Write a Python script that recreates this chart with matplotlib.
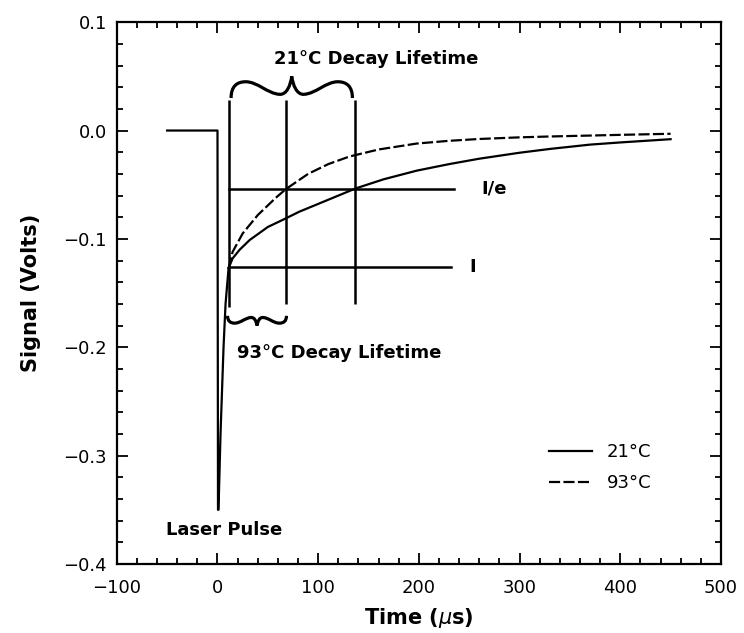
import numpy as np
import matplotlib
matplotlib.use("Agg")
from matplotlib import pyplot as plt
from matplotlib.path import Path
from matplotlib.patches import PathPatch

# laser pulse trace (before both decays)
pulse_t = [-50, -2, 0, 0.5, 1, 3, 6, 8, 11]
pulse_v = [0.0, 0.0, 0.0, -0.35, -0.35, -0.28, -0.20, -0.16, -0.127]

# decay curves
t21 = [11, 15, 22, 32, 50, 68, 81, 111, 137, 165, 198, 230, 260, 300, 330, 370, 400, 450]
v21 = [-0.127, -0.118, -0.110, -0.101, -0.089, -0.081, -0.075, -0.0635, -0.0535,
       -0.045, -0.037, -0.031, -0.026, -0.0205, -0.017, -0.013, -0.011, -0.008]
t93 = [11, 15, 25, 40, 58, 68, 90, 110, 131, 160, 198, 230, 260, 300, 330, 400, 450]
v93 = [-0.127, -0.112, -0.095, -0.078, -0.062, -0.054, -0.040, -0.031, -0.024,
       -0.0175, -0.012, -0.0095, -0.0078, -0.0063, -0.0055, -0.004, -0.003]

level_I = -0.126
level_Ie = -0.0535
marks_t = [11, 68.5, 137]

def brace(ax, x0, x1, y, h, lw=2.0):
    # curly brace between x0 and x1, base at y, tip at y+h
    w = x1 - x0
    half = [(0, 0), (0.0, 0.55), (0.05, 0.75), (0.12, 0.75),
            (0.22, 0.75), (0.30, 0.20), (0.40, 0.17),
            (0.46, 0.15), (0.49, 0.60), (0.50, 1.0)]
    right = [(1 - u, v) for u, v in half[::-1]][1:]
    pts = half + right
    verts = [(x0 + u * w, y + v * h) for u, v in pts]
    codes = [Path.MOVETO] + [Path.CURVE4] * (len(verts) - 1)
    ax.add_patch(PathPatch(Path(verts, codes), fill=False, lw=lw, color="black"))

fig = plt.figure(figsize=(7.44, 6.33), dpi=100)
ax = fig.add_axes([0.157, 0.109, 0.812, 0.856])

ax.plot(pulse_t, pulse_v, color="black", lw=1.6)
ax.plot(t21, v21, color="black", lw=1.6, label="21°C")
ax.plot(t93, v93, color="black", lw=1.6, dashes=(5, 1.5), label="93°C")

ax.plot([11, 235], [level_Ie, level_Ie], color="black", lw=1.8)
ax.plot([11, 232], [level_I, level_I], color="black", lw=1.8)
ax.vlines(marks_t[0], -0.163, 0.028, color="black", lw=1.8)
ax.vlines(marks_t[1:], -0.160, 0.028, color="black", lw=1.8)

brace(ax, 13.5, 134, 0.030, 0.020, lw=2.3)
brace(ax, 10, 68.5, -0.171, -0.009, lw=2.3)

tf = dict(fontsize=13, fontweight="bold", color="black")
ax.text(158, 0.066, "21°C Decay Lifetime", ha="center", va="center", **tf)
ax.text(19, -0.205, "93°C Decay Lifetime", ha="left", va="center", **tf)
ax.text(-51, -0.369, "Laser Pulse", ha="left", va="center", **tf)
ax.text(262, level_Ie, "I/e", ha="left", va="center", **tf)
ax.text(250, level_I, "I", ha="left", va="center", **tf)

ax.set_xlim(-100, 500)
ax.set_ylim(-0.4, 0.1)
ax.set_xticks(np.arange(-100, 501, 100))
ax.set_xticks(np.arange(-100, 501, 20), minor=True)
ax.set_yticks(np.arange(-0.4, 0.101, 0.1))
ax.set_yticks(np.arange(-0.4, 0.101, 0.02), minor=True)
ax.set_yticklabels(["\u22120.4", "\u22120.3", "\u22120.2", "\u22120.1", "0.0", "0.1"])
ax.tick_params(which="both", direction="in", top=True, right=True, labelsize=13, width=1.3)
ax.tick_params(which="major", length=8)
ax.tick_params(which="minor", length=4)
ax.tick_params(axis="x", which="major", pad=11)
ax.tick_params(axis="y", which="major", pad=7)
for s in ax.spines.values():
    s.set_linewidth(1.6)

ax.set_xlabel(r"Time ($\mu$s)", fontsize=15, fontweight="bold", labelpad=6)
ax.set_ylabel("Signal (Volts)", fontsize=15, fontweight="bold", labelpad=16)

ax.legend(loc="center left", bbox_to_anchor=(0.70, 0.178), frameon=False,
          fontsize=13, handlelength=2.4, handletextpad=0.8, labelspacing=0.7,
          borderpad=0)

fig.savefig("out.png", dpi=100)
